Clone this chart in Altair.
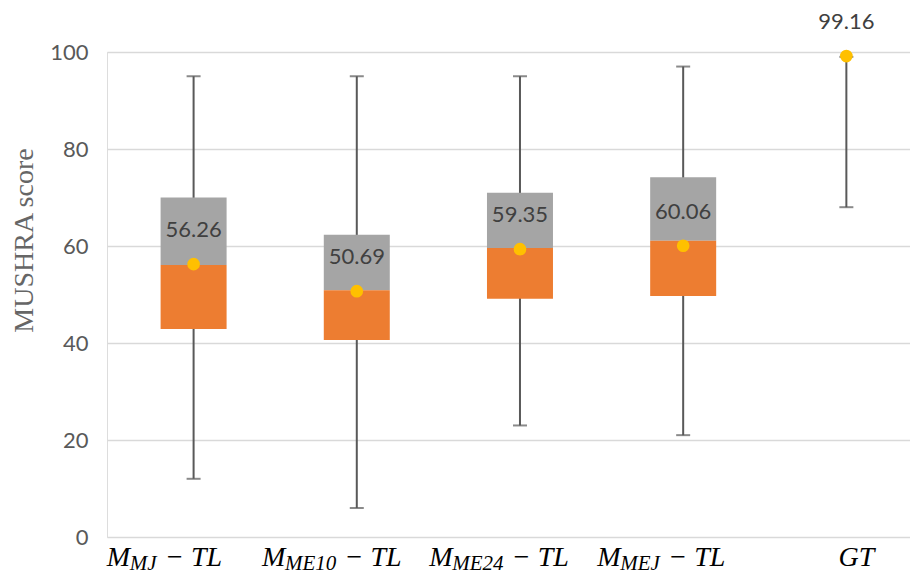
import altair as alt
import pandas as pd

# ---- data ----
categories = ["M_MJ-TL", "M_ME10-TL", "M_ME24-TL", "M_MEJ-TL", "GT"]
label_main = ["M", "M", "M", "M", "GT"]
label_sub = ["MJ", "ME10", "ME24", "MEJ", ""]
label_rest = ["\u2212\u00a0TL", "\u2212\u00a0TL", "\u2212\u00a0TL", "\u2212\u00a0TL", ""]
q1 = [42.9, 40.6, 49.1, 49.7, None]
median = [56.1, 50.9, 59.6, 61.1, None]
q3 = [70.0, 62.3, 71.0, 74.2, None]
whisker_low = [12, 6, 23, 21, 68]
whisker_high = [95, 95, 95, 97, 99]
mean = [56.26, 50.69, 59.35, 60.06, 99.16]
y_ticks = [0, 20, 40, 60, 80, 100]

# ---- layout ----
STEP = 165.25
W, H = 803, 485
X_DOMAIN = [-0.5, -0.5 + W / STEP]
LABEL_START_PX = [-88, -96, -92, -87, -8]   # left edge of each category label vs. category centre
SUB_GAP_PX = 9
MAIN_SIZE, SUB_SIZE = 28, 21
SERIF = "Liberation Serif"
SANS = "Lato"

# approximate advance widths (em) for Times-like italic
CW = {"M": 0.833, "J": 0.444, "E": 0.611, "T": 0.556, "L": 0.556, "G": 0.722,
      " ": 0.25, "\u00a0": 0.25, "\u2212": 0.6}


def tw(s, size):
    return sum(CW.get(c, 0.5) for c in s) * size


idx = list(range(len(categories)))
df = pd.DataFrame({
    "cat": categories, "idx": idx, "q1": q1, "median": median, "q3": q3,
    "lo": whisker_low, "hi": whisker_high, "mean": mean,
})
df["mean_label"] = [f"{m:.2f}" for m in mean]

rows = []
for i in idx:
    wm = tw(label_main[i], MAIN_SIZE)
    ws = tw(label_sub[i], SUB_SIZE)
    start = LABEL_START_PX[i]
    rows.append({"x": i + start / STEP, "text": label_main[i], "kind": "main"})
    if label_sub[i]:
        rows.append({"x": i + (start + wm) / STEP, "text": label_sub[i], "kind": "sub"})
        rows.append({"x": i + (start + wm + ws + SUB_GAP_PX) / STEP, "text": label_rest[i], "kind": "main"})
lab = pd.DataFrame(rows)

xs = alt.Scale(domain=X_DOMAIN, nice=False, zero=False)
ys = alt.Scale(domain=[0, 100], nice=False)

X = alt.X("idx:Q", scale=xs, axis=None)
WHISK = "#595959"

base = alt.Chart(df)

whisker = base.mark_rule(color=WHISK, strokeWidth=2).encode(
    x=X,
    y=alt.Y("lo:Q", scale=ys, axis=alt.Axis(
        values=y_ticks, title="MUSHRA score", domain=False, ticks=False,
        labelFont=SANS, labelFontSize=22, labelColor="#595959", labelPadding=19,
        grid=True, gridColor="#D9D9D9", gridWidth=1.5,
        titleFont=SERIF, titleFontSize=28, titleColor="#666666", titleFontWeight="normal",
        titleX=-83, titleY=188, titleAngle=270, titleAlign="center", titleBaseline="middle",
    )),
    y2="hi:Q",
)
cap_lo = base.mark_tick(color=WHISK, orient="horizontal", size=14, thickness=2).encode(
    x=X, y=alt.Y("lo:Q", scale=ys))
cap_hi = base.mark_tick(color=WHISK, orient="horizontal", size=14, thickness=2).encode(
    x=X, y=alt.Y("hi:Q", scale=ys))

boxes = base.transform_filter("isValid(datum.q1)")
upper = boxes.mark_bar(size=66, color="#A5A5A5").encode(
    x=X, y=alt.Y("median:Q", scale=ys), y2="q3:Q")
lower = boxes.mark_bar(size=66, color="#ED7D31").encode(
    x=X, y=alt.Y("q1:Q", scale=ys), y2="median:Q")

dots = base.mark_circle(size=160, color="#FFC000", opacity=1).encode(
    x=X, y=alt.Y("mean:Q", scale=ys))
vals = base.mark_text(dy=-34, font=SANS, fontSize=22, color="#404040").encode(
    x=X, y=alt.Y("mean:Q", scale=ys), text="mean_label:N")

lab_main = alt.Chart(lab).transform_filter("datum.kind == 'main'").mark_text(
    font=SERIF, fontStyle="italic", fontSize=MAIN_SIZE, color="#000000",
    align="left", baseline="alphabetic").encode(
    x=alt.X("x:Q", scale=xs), y=alt.value(H + 29), text="text:N")
lab_sub = alt.Chart(lab).transform_filter("datum.kind == 'sub'").mark_text(
    font=SERIF, fontStyle="italic", fontSize=SUB_SIZE, color="#000000",
    align="left", baseline="alphabetic").encode(
    x=alt.X("x:Q", scale=xs), y=alt.value(H + 33), text="text:N")

chart = alt.layer(whisker, cap_lo, cap_hi, upper, lower, dots, vals, lab_main, lab_sub).properties(
    width=W, height=H,
    autosize=alt.AutoSizeParams(type="none"),
    padding={"left": 99, "top": 44, "right": 0, "bottom": 37},
).configure_view(stroke=None).configure(background="#FFFFFF")

chart.save("out.html", embed_options={"renderer": "svg", "actions": False})
